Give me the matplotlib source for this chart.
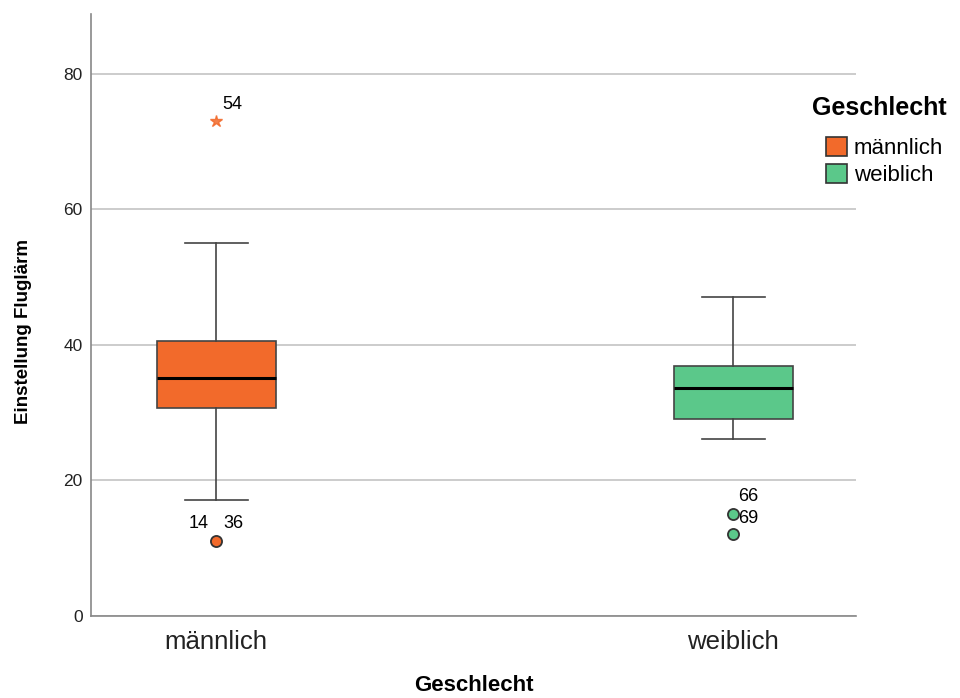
import matplotlib.pyplot as plt
from matplotlib.patches import Patch

# Kennwerte der Boxplots (Einstellung Fluglärm nach Geschlecht)
gruppen = ["männlich", "weiblich"]
q1 = [30.7, 29.1]
median = [35.1, 33.6]
q3 = [40.6, 36.9]
whisker_unten = [17.1, 26.1]
whisker_oben = [55.0, 47.1]

# Ausreißer (Kreis) und Extremwerte (Stern) mit Fallnummern
ausreisser_gruppe = [0, 1, 1]
ausreisser_wert = [11.1, 15.0, 12.1]
extrem_gruppe = [0]
extrem_wert = [73.1]
extrem_fall = ["54"]

farben = ["#f26a2b", "#5bc88a"]

plt.rcParams["font.family"] = ["Liberation Sans", "DejaVu Sans"]

fig = plt.figure(figsize=(9.6, 6.98), dpi=100)
ax = fig.add_axes([0.0948, 0.1175, 0.797, 0.8625])

stats = []
for i, g in enumerate(gruppen):
    stats.append({
        "label": g, "q1": q1[i], "med": median[i], "q3": q3[i],
        "whislo": whisker_unten[i], "whishi": whisker_oben[i], "fliers": [],
    })

bp = ax.bxp(stats, positions=[0, 1], widths=0.23, patch_artist=True,
            showfliers=False,
            boxprops=dict(edgecolor="#444444", linewidth=1.2),
            medianprops=dict(color="black", linewidth=2.2),
            whiskerprops=dict(color="#444444", linewidth=1.2),
            capprops=dict(color="#444444", linewidth=1.2),
            capwidths=0.122, zorder=3)
for box, f in zip(bp["boxes"], farben):
    box.set_facecolor(f)

# Ausreißer als Kreise
for g, w in zip(ausreisser_gruppe, ausreisser_wert):
    ax.plot(g, w, "o", ms=8, mfc=farben[g], mec="#333333", mew=1.3, zorder=4)

# Extremwerte als Sterne
for g, w, fall in zip(extrem_gruppe, extrem_wert, extrem_fall):
    ax.plot(g, w, marker="*", ms=9, color=farben[g], mec=farben[g],
            alpha=0.85, zorder=4)
    ax.text(g + 0.012, w + 2.4, fall, fontsize=13, ha="left", va="center")

# Fallnummern der Ausreißer
ax.text(-0.033, ausreisser_wert[0] + 2.5, "14", fontsize=13, ha="center", va="center")
ax.text(0.033, ausreisser_wert[0] + 2.5, "36", fontsize=13, ha="center", va="center")
ax.text(1.01, ausreisser_wert[1] + 2.7, "66", fontsize=13, ha="left", va="center")
ax.text(1.01, ausreisser_wert[1] - 0.6, "69", fontsize=13, ha="left", va="center")

ax.set_xlim(-0.242, 1.238)
ax.set_ylim(0, 88.85)
ax.set_yticks([0, 20, 40, 60, 80])
ax.yaxis.grid(True, color="#c4c4c4", linewidth=1.2, zorder=0)
ax.set_axisbelow(True)
ax.set_xticks([0, 1])
ax.set_xticklabels(gruppen, fontsize=18.5, color="#222222")
ax.tick_params(axis="y", length=0, labelsize=12.5, pad=6, colors="#222222")
ax.tick_params(axis="x", length=0, pad=10)

for s in ["top", "right"]:
    ax.spines[s].set_visible(False)
for s in ["left", "bottom"]:
    ax.spines[s].set_color("#888888")
    ax.spines[s].set_linewidth(1.2)

ax.set_xlabel("Geschlecht", fontsize=16, fontweight="bold")
ax.xaxis.set_label_coords(0.5, -0.116)
ax.xaxis.label.set_va("center")
ax.set_ylabel("Einstellung Fluglärm", fontsize=13.5, fontweight="bold")
ax.yaxis.set_label_coords(-0.088, 0.472)
ax.yaxis.label.set_va("center")

# Legende: Titel separat, darunter die Farbfelder
fig.text(812 / 960, 1 - 108 / 698, "Geschlecht", fontsize=18,
         fontweight="bold", ha="left", va="center")
handles = [Patch(facecolor=f, edgecolor="#333333", linewidth=1.2, label=g)
           for g, f in zip(gruppen, farben)]
fig.legend(handles=handles, loc="upper left",
           bbox_to_anchor=(826 / 960, 1 - 137 / 698), frameon=False,
           fontsize=16, borderpad=0, borderaxespad=0,
           handlelength=0.95, handleheight=0.95, handletextpad=0.3,
           labelspacing=0.22)

fig.savefig("out.png", dpi=100)
